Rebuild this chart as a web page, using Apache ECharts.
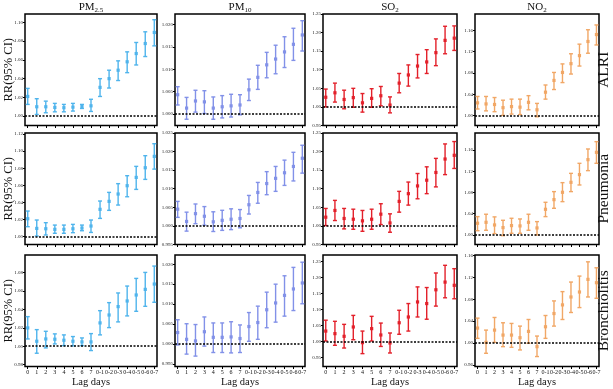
<!DOCTYPE html>
<html>
<head>
<meta charset="utf-8">
<script src="https://cdn.jsdelivr.net/npm/echarts@6/dist/echarts.min.js"></script>
<style>
  html, body { margin: 0; padding: 0; background: #fff; }
  #chart { width: 613px; height: 389px; }
</style>
</head>
<body>
<div id="chart"></div>
<script>
// lag categories on every x axis
const lagLabels = ['0', '1', '2', '3', '4', '5', '6', '7', '0-1', '0-2', '0-3', '0-4', '0-5', '0-6', '0-7']

// [RR, lower 95% CI, upper 95% CI] per lag
const alriPm25 = [[1.021, 1.0125, 1.0296], [1.010, 1.0018, 1.0186], [1.010, 1.0036, 1.016], [1.0093, 1.0046, 1.0136], [1.009, 1.0046, 1.0125], [1.0096, 1.0054, 1.0136], [1.0104, 1.0082, 1.0125], [1.011, 1.005, 1.018], [1.0307, 1.021, 1.040], [1.040, 1.030, 1.049], [1.049, 1.038, 1.059], [1.058, 1.0464, 1.0686], [1.0668, 1.0546, 1.0786], [1.0775, 1.0636, 1.090], [1.0893, 1.075, 1.1029]]
const alriPm10 = [[1.0043, 1.0020, 1.0061], [1.0013, 0.9988, 1.0037], [1.0029, 1.0004, 1.0053], [1.0027, 1.0001, 1.0052], [1.0013, 0.9988, 1.0038], [1.0016, 0.9991, 1.0041], [1.0018, 0.9993, 1.0044], [1.0020, 0.9998, 1.0043], [1.0054, 1.0030, 1.0078], [1.0082, 1.0055, 1.0109], [1.0110, 1.0081, 1.0138], [1.0123, 1.0090, 1.0154], [1.0139, 1.0104, 1.0173], [1.0156, 1.0120, 1.0192], [1.0177, 1.0141, 1.0209]]
const alriSo2 = [[1.026, 1.000, 1.048], [1.038, 1.013, 1.064], [1.020, 0.995, 1.045], [1.025, 0.999, 1.050], [1.011, 0.986, 1.036], [1.023, 0.999, 1.049], [1.030, 1.003, 1.055], [1.005, 0.984, 1.027], [1.064, 1.038, 1.090], [1.086, 1.056, 1.113], [1.110, 1.078, 1.141], [1.121, 1.090, 1.154], [1.146, 1.111, 1.183], [1.179, 1.143, 1.217], [1.185, 1.152, 1.218]]
const alriNo2 = [[1.024, 1.0125, 1.036], [1.022, 1.009, 1.036], [1.021, 1.0075, 1.034], [1.015, 1.0006, 1.029], [1.017, 1.003, 1.031], [1.016, 1.002, 1.031], [1.025, 1.011, 1.0375], [1.011, 0.998, 1.023], [1.044, 1.031, 1.0575], [1.066, 1.049, 1.081], [1.081, 1.062, 1.097], [1.0975, 1.078, 1.116], [1.1125, 1.093, 1.134], [1.139, 1.117, 1.161], [1.152, 1.1325, 1.170]]

const pneuPm25 = [[1.021, 1.0117, 1.030], [1.0097, 1.0008, 1.0195], [1.0093, 1.002, 1.0164], [1.0086, 1.004, 1.0136], [1.0086, 1.004, 1.0136], [1.0093, 1.0047, 1.0144], [1.0101, 1.007, 1.0136], [1.0125, 1.005, 1.0195], [1.032, 1.0214, 1.0417], [1.0413, 1.0308, 1.0518], [1.0499, 1.037, 1.062], [1.0596, 1.0467, 1.0713], [1.0693, 1.0553, 1.0822], [1.0806, 1.067, 1.0947], [1.0939, 1.079, 1.1087]]
const pneuPm10 = [[1.0045, 1.0023, 1.0066], [1.0012, 0.9986, 1.0037], [1.0033, 1.0006, 1.0059], [1.0026, 1.0002, 1.0052], [1.0011, 0.9985, 1.0038], [1.0015, 0.9988, 1.0042], [1.0018, 0.9990, 1.0046], [1.0020, 0.9995, 1.0044], [1.0057, 1.0032, 1.0082], [1.0090, 1.0061, 1.0117], [1.0114, 1.0084, 1.0146], [1.0128, 1.0093, 1.0160], [1.0143, 1.0109, 1.0177], [1.0160, 1.0121, 1.0198], [1.0182, 1.0142, 1.0217]]
const pneuSo2 = [[1.0235, 1.001, 1.047], [1.0416, 1.0145, 1.0687], [1.020, 0.992, 1.047], [1.018, 0.991, 1.045], [1.0136, 0.9855, 1.0416], [1.018, 0.991, 1.045], [1.0316, 1.0036, 1.0597], [1.008, 0.983, 1.0325], [1.066, 1.037, 1.093], [1.0868, 1.056, 1.118], [1.1076, 1.073, 1.141], [1.123, 1.0868, 1.159], [1.1438, 1.105, 1.1817], [1.180, 1.138, 1.2206], [1.190, 1.1546, 1.227]]
const pneuNo2 = [[1.022, 1.008, 1.0345], [1.0238, 1.0088, 1.039], [1.0188, 1.0025, 1.034], [1.0138, 0.9987, 1.0276], [1.0176, 1.0031, 1.0314], [1.017, 1.0031, 1.0301], [1.0238, 1.0088, 1.039], [1.0132, 1.000, 1.0251], [1.0483, 1.0345, 1.0615], [1.0665, 1.0502, 1.0816], [1.0803, 1.0627, 1.0985], [1.0991, 1.0816, 1.116], [1.1136, 1.0941, 1.1349], [1.1418, 1.1211, 1.1619], [1.1556, 1.1349, 1.1757]]

const bronPm25 = [[1.0199, 1.0079, 1.0321], [1.0054, 0.9924, 1.018], [1.0079, 0.9982, 1.0162], [1.0076, 1.0025, 1.0134], [1.0065, 1.0007, 1.0123], [1.0054, 1.0004, 1.0105], [1.0047, 1.0007, 1.009], [1.0047, 0.9953, 1.0137], [1.0253, 1.0123, 1.0386], [1.0339, 1.0202, 1.0473], [1.043, 1.0264, 1.0578], [1.0491, 1.0329, 1.0653], [1.0556, 1.0379, 1.0736], [1.0617, 1.0433, 1.0801], [1.0675, 1.0477, 1.087]]
const bronPm10 = [[1.0029, 0.9998, 1.0061], [1.0012, 0.9975, 1.0051], [1.0008, 0.9970, 1.0049], [1.0031, 0.9995, 1.0068], [1.0017, 0.9979, 1.0053], [1.0017, 0.9979, 1.0053], [1.0018, 0.9978, 1.0056], [1.0014, 0.9979, 1.0048], [1.0044, 1.0007, 1.0079], [1.0054, 1.0012, 1.0095], [1.0086, 1.0041, 1.0130], [1.0103, 1.0055, 1.0150], [1.0122, 1.0070, 1.0171], [1.0138, 1.0084, 1.0192], [1.0153, 1.0101, 1.0205]]
const bronSo2 = [[1.032, 1.001, 1.066], [1.024, 0.9875, 1.0625], [1.0156, 0.979, 1.053], [1.0448, 1.005, 1.081], [0.9958, 0.9615, 1.032], [1.0396, 1.001, 1.078], [1.0198, 0.984, 1.057], [0.9948, 0.9635, 1.026], [1.058, 1.022, 1.097], [1.076, 1.032, 1.118], [1.123, 1.076, 1.17], [1.118, 1.069, 1.168], [1.161, 1.110, 1.2135], [1.185, 1.136, 1.2375], [1.175, 1.133, 1.227]]
const bronNo2 = [[1.0273, 1.0085, 1.0455], [1.0012, 0.9812, 1.0236], [1.0236, 1.0012, 1.0467], [1.0145, 0.9933, 1.037], [1.0145, 0.9921, 1.0358], [1.0097, 0.9873, 1.0309], [1.0212, 0.9994, 1.043], [0.9933, 0.9752, 1.0127], [1.0297, 1.0085, 1.0503], [1.0539, 1.0309, 1.077], [1.0697, 1.043, 1.094], [1.0842, 1.0558, 1.1115], [1.0933, 1.0648, 1.1224], [1.1164, 1.0842, 1.1485], [1.1103, 1.0818, 1.1376]]

// y axis limits [min, max] per panel, columns PM2.5 / PM10 / SO2 / NO2
const alriRanges = [[0.990, 1.109], [0.9974, 1.0224], [0.95, 1.25], [0.9816, 1.1905]]
const pneuRanges = [[0.9909, 1.1212], [0.995, 1.025], [0.95, 1.25], [0.982, 1.192]]
const bronRanges = [[0.978, 1.099], [0.9944, 1.0223], [0.9213, 1.2697], [0.957, 1.161]]

// y tick labels
const alriTicks = [[1.00, 1.02, 1.04, 1.06, 1.08, 1.10], [1.000, 1.005, 1.010, 1.015, 1.020], [0.95, 1.00, 1.05, 1.10, 1.15, 1.20, 1.25], [1.00, 1.04, 1.08, 1.12, 1.16]]
const pneuTicks = [[1.00, 1.02, 1.04, 1.06, 1.08, 1.10, 1.12], [0.995, 1.000, 1.005, 1.010, 1.015, 1.020, 1.025], [0.95, 1.00, 1.05, 1.10, 1.15, 1.20, 1.25], [1.00, 1.04, 1.08, 1.12, 1.16]]
const bronTicks = [[0.98, 1.00, 1.02, 1.04, 1.06, 1.08, 1.10], [0.995, 1.000, 1.005, 1.010, 1.015, 1.020], [0.95, 1.00, 1.05, 1.10, 1.15, 1.20, 1.25], [0.96, 1.00, 1.04, 1.08, 1.12, 1.16]]

const outcomes = ['ALRI', 'Pneumonia', 'Bronchiolitis']
const rowData = [[alriPm25, alriPm10, alriSo2, alriNo2], [pneuPm25, pneuPm10, pneuSo2, pneuNo2], [bronPm25, bronPm10, bronSo2, bronNo2]]
const rowRanges = [alriRanges, pneuRanges, bronRanges]
const rowTicks = [alriTicks, pneuTicks, bronTicks]

const titles = [['PM', '2.5'], ['PM', '10'], ['SO', '2'], ['NO', '2']]
const colors = ['#4fb4ec', '#8291e8', '#e3202a', '#f1a766']
const decimals = [2, 3, 2, 2]

// layout
const colLeft = [25, 175, 323, 475]
const colWidth = [132, 130, 134, 124]
const rowTop = [14, 133, 255]
const rowHeight = 111.5
const serif = '"Liberation Serif", "DejaVu Serif", serif'

function errorBar (color) {
  return function (params, api) {
    const x = api.value(0)
    const c = api.coord([x, api.value(1)])
    const lo = api.coord([x, api.value(2)])
    const hi = api.coord([x, api.value(3)])
    const style = { stroke: color, lineWidth: 1.4 }
    return {
      type: 'group',
      children: [
        { type: 'line', shape: { x1: c[0], y1: hi[1], x2: c[0], y2: lo[1] }, style },
        { type: 'line', shape: { x1: c[0] - 2, y1: hi[1], x2: c[0] + 2, y2: hi[1] }, style },
        { type: 'line', shape: { x1: c[0] - 2, y1: lo[1], x2: c[0] + 2, y2: lo[1] }, style },
        { type: 'rect', shape: { x: c[0] - 1.6, y: c[1] - 1.6, width: 3.2, height: 3.2 }, style: { fill: color } }
      ]
    }
  }
}

const grid = []
const xAxis = []
const yAxis = []
const series = []
const graphic = []
const lagIndex = lagLabels.map((l, k) => k)

rowData.forEach((row, r) => {
  row.forEach((panel, c) => {
    const i = r * 4 + c
    grid.push({
      left: colLeft[c],
      top: rowTop[r],
      width: colWidth[c],
      height: rowHeight,
      show: true,
      borderColor: '#000',
      borderWidth: 1.5
    })
    xAxis.push({
      gridIndex: i,
      type: 'value',
      min: -0.3,
      max: 14.3,
      axisLine: { show: false, onZero: false },
      splitLine: { show: false },
      axisTick: {
        customValues: lagIndex,
        length: 2.5,
        lineStyle: { color: '#000', width: 1 }
      },
      axisLabel: {
        show: r === 2,
        customValues: lagIndex,
        formatter: v => lagLabels[Math.round(v)],
        fontSize: 6,
        margin: 3,
        color: '#111',
        fontFamily: serif
      }
    })
    yAxis.push({
      gridIndex: i,
      type: 'value',
      min: rowRanges[r][c][0],
      max: rowRanges[r][c][1],
      axisLine: { show: false, onZero: false },
      splitLine: { show: false },
      axisTick: {
        customValues: rowTicks[r][c],
        length: 2,
        lineStyle: { color: '#000', width: 1 }
      },
      axisLabel: {
        customValues: rowTicks[r][c],
        formatter: v => v.toFixed(decimals[c]),
        fontSize: 5,
        margin: 2,
        color: '#222',
        fontFamily: serif
      }
    })
    series.push({
      type: 'custom',
      xAxisIndex: i,
      yAxisIndex: i,
      renderItem: errorBar(colors[c]),
      data: panel.map((d, k) => [k, d[0], d[1], d[2]]),
      markLine: {
        silent: true,
        symbol: 'none',
        label: { show: false },
        lineStyle: { color: '#000', type: [2, 1.5], width: 1.6 },
        data: [{ yAxis: 1 }]
      }
    })
  })
})

// column titles and "Lag days"
titles.forEach((t, c) => {
  const cx = colLeft[c] + colWidth[c] / 2
  graphic.push({
    type: 'text',
    x: cx,
    y: 7,
    style: {
      text: '{m|' + t[0] + '}{s|' + t[1] + '}',
      align: 'center',
      verticalAlign: 'middle',
      rich: {
        m: { fontSize: 11, fontFamily: serif, fill: '#111' },
        s: { fontSize: 7, fontFamily: serif, fill: '#111', padding: [6, 0, 0, 0] }
      }
    }
  })
  graphic.push({
    type: 'text',
    x: cx,
    y: 382,
    style: { text: 'Lag days', font: '10.5px ' + serif, fill: '#111', align: 'center', verticalAlign: 'middle' }
  })
})

// row labels and y axis name
outcomes.forEach((name, r) => {
  const cy = rowTop[r] + rowHeight / 2
  graphic.push({
    type: 'text',
    x: 9,
    y: cy,
    rotation: Math.PI / 2,
    style: { text: 'RR(95% CI)', font: '12.5px ' + serif, fill: '#111', align: 'center', verticalAlign: 'middle' }
  })
  graphic.push({
    type: 'text',
    x: 604,
    y: cy,
    rotation: Math.PI / 2,
    style: { text: name, font: '15.5px ' + serif, fill: '#111', align: 'center', verticalAlign: 'middle' }
  })
})

const chart = echarts.init(document.getElementById('chart'))
chart.setOption({
  animation: false,
  backgroundColor: '#fff',
  grid,
  xAxis,
  yAxis,
  series,
  graphic
})
</script>
</body>
</html>
